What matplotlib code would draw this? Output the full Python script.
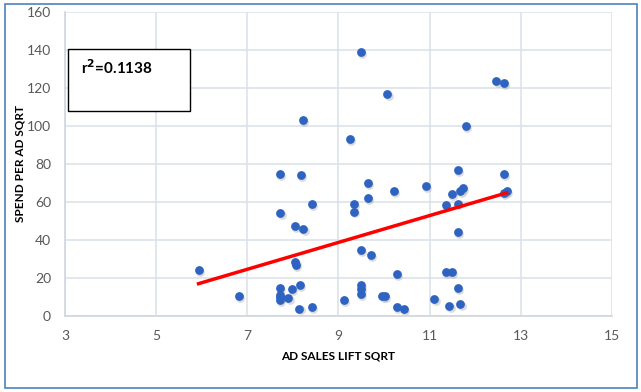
import matplotlib.pyplot as plt
from matplotlib.patches import Rectangle
import numpy as np

plt.rcParams['font.family'] = ['Lato', 'DejaVu Sans']

# data
ad_sales_lift = [5.93, 6.82, 7.71, 7.72, 7.71, 7.71, 7.71, 7.71, 7.90, 7.98,
                 8.17, 8.22, 8.04, 8.23, 8.41, 8.05, 8.06, 8.15, 8.14, 8.41,
                 9.11, 9.25, 9.34, 9.34, 9.49, 9.49, 9.49, 9.49, 9.49, 9.64,
                 9.64, 9.71, 9.96, 10.02, 10.07, 10.22, 10.28, 10.28, 10.43, 10.91,
                 11.10, 11.36, 11.36, 11.49, 11.43, 11.48, 11.62, 11.62, 11.62, 11.62,
                 11.67, 11.67, 11.73, 11.79, 12.46, 12.63, 12.63, 12.63, 12.69]
spend_per_ad = [24.2, 10.5, 74.7, 54.0, 14.7, 11.0, 8.4, 10.0, 9.5, 14.4,
                74.0, 103.0, 47.3, 45.9, 58.9, 28.2, 27.0, 16.3, 3.9, 4.9,
                8.4, 93.2, 59.0, 55.0, 139.0, 34.5, 16.3, 14.0, 11.4, 70.0,
                62.2, 32.0, 10.7, 10.7, 117.0, 65.7, 22.0, 4.7, 3.5, 68.3,
                8.9, 58.4, 23.1, 23.1, 5.4, 64.1, 76.8, 59.2, 44.0, 14.7,
                6.5, 65.9, 67.5, 99.9, 123.6, 122.5, 74.5, 64.5, 65.7]

# linear trend line as shown on the chart
trend_slope = 7.07
trend_intercept = -24.9
r_squared = 0.1138

x_ticks = [3, 5, 7, 9, 11, 13, 15]
y_ticks = [0, 20, 40, 60, 80, 100, 120, 140, 160]

fig = plt.figure(figsize=(6.41, 3.92), dpi=100)
ax = fig.add_axes([65 / 641, 1 - 316 / 392, (612 - 65) / 641, (316 - 12) / 392])

# outer chart border
fig.patches.append(Rectangle((5 / 641, 4 / 392), 632 / 641, 384 / 392,
                             transform=fig.transFigure, fill=False,
                             edgecolor='#4f81bd', linewidth=1.2))

# shadow + points
xs = np.array(ad_sales_lift)
ys = np.array(spend_per_ad)
ax.scatter(xs + 0.03, ys - 1.0, s=40, color='#9a9a9a', alpha=0.35, linewidths=0, zorder=2)
ax.scatter(xs, ys, s=40, color='#2f63c2', linewidths=0, zorder=3)

tx = np.array([xs.min(), xs.max()])
ax.plot(tx, trend_slope * tx + trend_intercept, color='#ff0000', linewidth=2.5, zorder=4)

ax.set_xlim(3, 15)
ax.set_ylim(0, 160)
ax.set_xticks(x_ticks)
ax.set_yticks(y_ticks)
ax.grid(True, color='#dde2ea', linewidth=1.2)
ax.set_axisbelow(True)
for side in ['top', 'right']:
    ax.spines[side].set_visible(False)
for side in ['left', 'bottom']:
    ax.spines[side].set_color('#d0d5dd')
    ax.spines[side].set_linewidth(1.2)
ax.tick_params(length=0, labelsize=10, labelcolor='#595959', pad=10)

ax.set_xlabel('AD SALES LIFT SQRT', fontsize=8.5, fontweight='bold', labelpad=6)
ax.set_ylabel('SPEND PER AD SQRT', fontsize=8.5, fontweight='bold', labelpad=1)

# r-squared box
ax.add_patch(Rectangle((68 / 641, 1 - 111 / 392), 122 / 641, 62 / 392,
                       transform=fig.transFigure, facecolor='white',
                       edgecolor='black', linewidth=1.0, zorder=5))
fig.text(81 / 641, 1 - 68 / 392, r'r$^\mathbf{2}$=%.4f' % r_squared,
         fontsize=11, fontweight='bold', va='center', ha='left', zorder=6)

fig.savefig('out.png', dpi=100)
